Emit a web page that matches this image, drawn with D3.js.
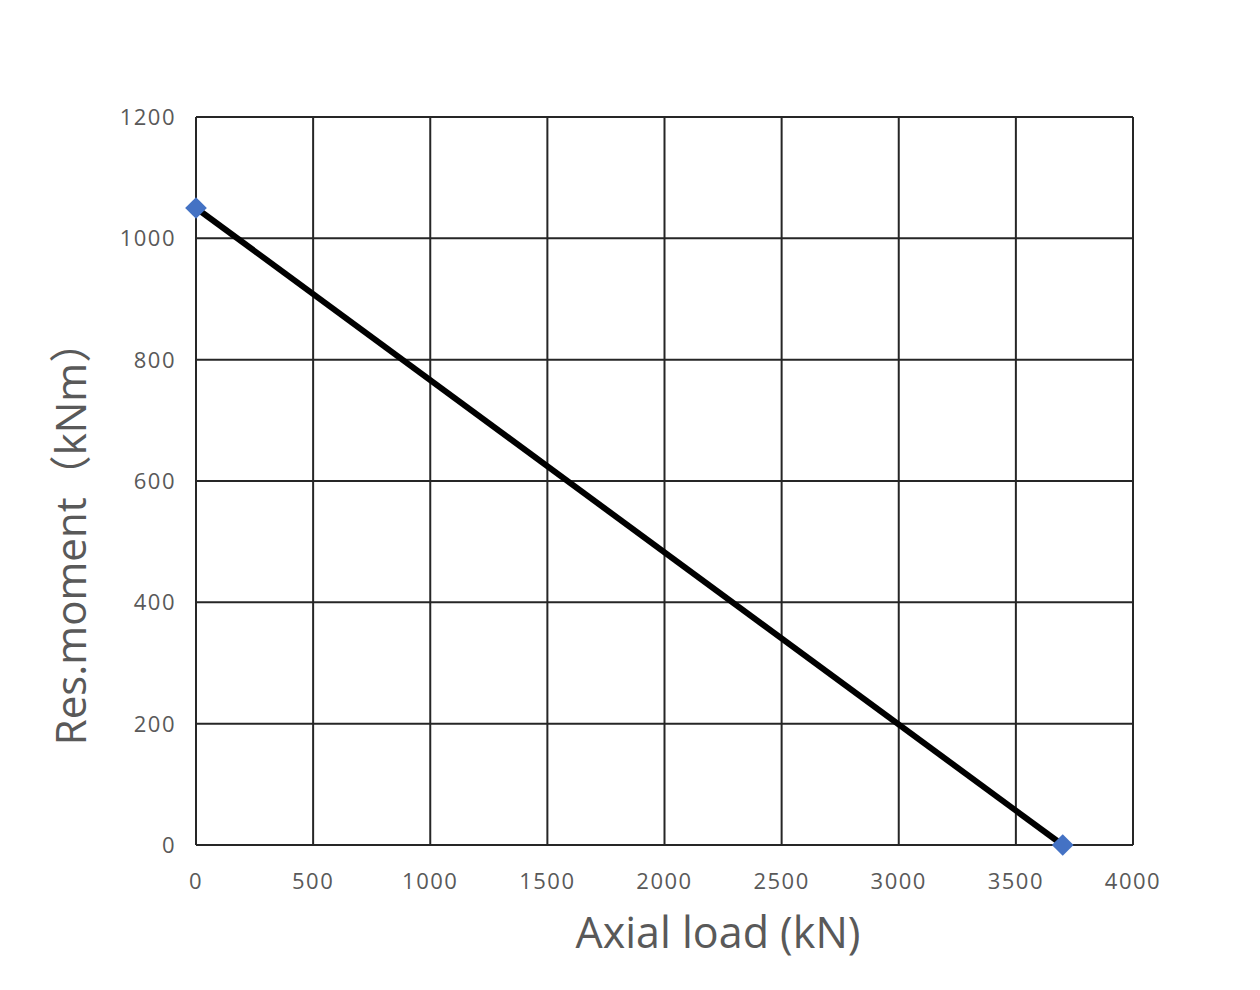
<!DOCTYPE html>
<html><head><meta charset="utf-8">
<script src="https://cdn.jsdelivr.net/npm/d3@7"></script>
<style>body{margin:0;background:#fff}</style>
</head><body>
<svg id="c" width="1260" height="990"></svg>
<script>
const axialLoad = [0, 3700];
const resMoment = [1050, 0];
const xTicks = [0, 500, 1000, 1500, 2000, 2500, 3000, 3500, 4000];
const yTicks = [0, 200, 400, 600, 800, 1000, 1200];
const xTitle = "Axial load (kN)";
const yTitle = "Res.moment（kNm）";

const svg = d3.select("#c");
const m = {l:196, r:1133, t:117, b:845};
const x = d3.scaleLinear().domain([0,4000]).range([m.l, m.r]);
const y = d3.scaleLinear().domain([0,1200]).range([m.b, m.t]);
const font = "'Open Sans', 'Noto Sans', sans-serif";

// grid
svg.append("g").selectAll("line").data(xTicks).join("line")
  .attr("x1", d=>x(d)).attr("x2", d=>x(d)).attr("y1", m.t).attr("y2", m.b)
  .attr("stroke", "#262626").attr("stroke-width", 2);
svg.append("g").selectAll("line").data(yTicks).join("line")
  .attr("y1", d=>y(d)).attr("y2", d=>y(d)).attr("x1", m.l).attr("x2", m.r)
  .attr("stroke", "#262626").attr("stroke-width", 2);

// tick labels
svg.append("g").selectAll("text").data(xTicks).join("text")
  .attr("x", d=>x(d)).attr("y", 889).attr("text-anchor","middle")
  .attr("font-family", font).attr("font-size", 22).attr("letter-spacing", 1.5).attr("fill", "#595959")
  .text(d=>d);
svg.append("g").selectAll("text").data(yTicks).join("text")
  .attr("x", 176).attr("y", d=>y(d)+8).attr("text-anchor","end")
  .attr("font-family", font).attr("font-size", 22).attr("letter-spacing", 1.5).attr("fill", "#595959")
  .text(d=>d);

// line
const pts = axialLoad.map((v,i)=>[v, resMoment[i]]);
svg.append("path").datum(pts)
  .attr("d", d3.line().x(d=>x(d[0])).y(d=>y(d[1])))
  .attr("fill","none").attr("stroke","#000").attr("stroke-width",6);

// markers
svg.append("g").selectAll("path").data(pts).join("path")
  .attr("d", d3.symbol(d3.symbolDiamond2, 300)())
  .attr("transform", d=>`translate(${x(d[0])},${y(d[1])})`)
  .attr("fill", "#4472C4");

// titles
svg.append("text").attr("x", 718).attr("y", 948).attr("text-anchor","middle")
  .attr("font-family", font).attr("font-size", 43).attr("fill", "#595959")
  .text(xTitle);
svg.append("text").attr("transform","translate(86,533) rotate(-90)").attr("text-anchor","middle")
  .attr("font-family", "'Open Sans', 'Noto Sans CJK SC', sans-serif").attr("font-size", 42).attr("fill", "#595959")
  .text(yTitle);
</script>
</body></html>
